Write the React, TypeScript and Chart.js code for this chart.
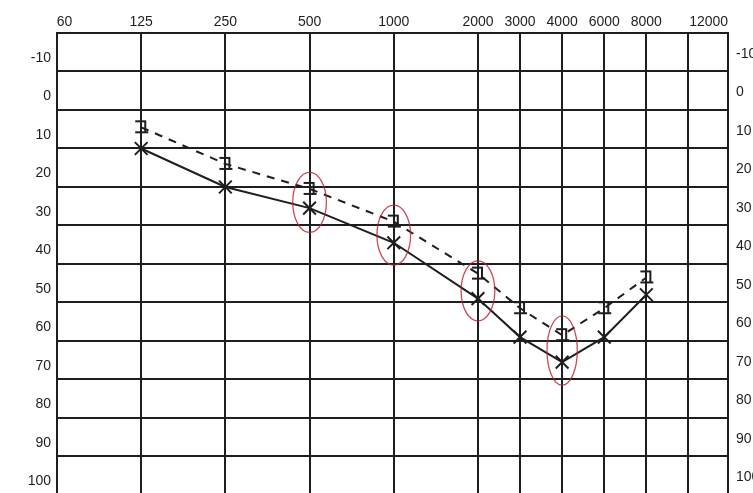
import React, { useEffect, useRef } from "react";
import { Chart, registerables } from "chart.js";

Chart.register(...registerables);

// Frequencies tested (position on the octave scale) and thresholds (dB HL)
const freqLabels = ["125", "250", "500", "1000", "2000", "3000", "4000", "6000", "8000"];
const freqPos = [1, 2, 3, 4, 5, 5.5, 6, 6.5, 7];
const airConduction = [13.5, 23.5, 29, 38, 52.5, 62.5, 69, 62.5, 51.5];
const boneConduction = [8, 17.5, 24, 32.5, 46, 55, 62, 55, 47];

// Axis ticks
const topTickLabels = ["60", "125", "250", "500", "1000", "2000", "3000", "4000", "6000", "8000", "12000"];
const topTickPos = [0.09, 1, 2, 3, 4, 5, 5.5, 6, 6.5, 7, 7.74];
const freqGridPos = [1, 2, 3, 4, 5, 5.5, 6, 6.5, 7, 7.5];
const dbLabels = [-10, 0, 10, 20, 30, 40, 50, 60, 70, 80, 90, 100];
const dbGridLines = [-6.5, 3.5, 13.5, 23.5, 33.5, 43.5, 53.5, 63.5, 73.5, 83.5, 93.5];

// Circled points (frequency position, dB centre)
const circledPos = [3, 4, 5, 6];
const circledDb = [27.5, 36, 50.5, 66];

const INK = "#1e1e1e";

function makeBracket(): HTMLCanvasElement {
  const c = document.createElement("canvas");
  c.width = 18;
  c.height = 18;
  const g = c.getContext("2d")!;
  g.strokeStyle = INK;
  g.lineWidth = 2;
  g.lineCap = "square";
  g.beginPath();
  g.moveTo(4, 3);
  g.lineTo(13, 3);
  g.lineTo(13, 14);
  g.moveTo(4, 14);
  g.lineTo(15, 14);
  g.stroke();
  return c;
}

const ellipsePlugin = {
  id: "ellipses",
  afterDatasetsDraw(chart: any) {
    const { ctx, scales } = chart;
    const xs = scales.x;
    const ys = scales.y;
    ctx.save();
    ctx.strokeStyle = "rgba(185,30,45,0.8)";
    ctx.lineWidth = 1.3;
    circledPos.forEach((p, i) => {
      const cx = xs.getPixelForValue(p);
      const cy = ys.getPixelForValue(circledDb[i]);
      const rx = Math.abs(xs.getPixelForValue(p + 0.2) - cx);
      const ry = Math.abs(ys.getPixelForValue(circledDb[i] + (p === 6 ? 9 : 7.8)) - cy);
      ctx.beginPath();
      ctx.ellipse(cx, cy, p === 6 ? rx * 0.9 : rx, ry, 0, 0, Math.PI * 2);
      ctx.stroke();
    });
    ctx.restore();
  },
};

export default function App() {
  const ref = useRef<HTMLCanvasElement>(null);

  useEffect(() => {
    if (!ref.current) return;
    const xGridSet = new Set(freqGridPos);
    const yGridSet = new Set(dbGridLines);
    const topLabelMap = new Map<number, string>();
    topTickPos.forEach((p, i) => topLabelMap.set(p, topTickLabels[i]));
    const font = { family: "'Liberation Sans', Arial, sans-serif", size: 14 };
    const noPad = (s: any) => {
      s.paddingTop = 0;
      s.paddingBottom = 0;
      s.paddingLeft = 0;
      s.paddingRight = 0;
    };

    const chart = new Chart(ref.current, {
      type: "line",
      data: {
        labels: freqLabels,
        datasets: [
          {
            label: "Air",
            data: freqPos.map((p, i) => ({ x: p, y: airConduction[i] })),
            borderColor: INK,
            borderWidth: 2,
            pointStyle: "crossRot",
            pointRadius: 9,
            pointBorderWidth: 2,
            pointBorderColor: INK,
            pointBackgroundColor: INK,
            tension: 0,
          },
          {
            label: "Bone",
            data: freqPos.map((p, i) => ({ x: p, y: boneConduction[i] })),
            borderColor: INK,
            borderWidth: 2,
            borderDash: [8, 7],
            pointStyle: makeBracket() as any,
            pointRadius: 8,
            tension: 0,
          },
        ],
      },
      options: {
        responsive: false,
        animation: false,
        events: [],
        layout: { padding: 0, autoPadding: false },
        plugins: { legend: { display: false }, tooltip: { enabled: false } },
        scales: {
          x: {
            type: "linear",
            position: "top",
            min: 0,
            max: 7.97,
            afterBuildTicks: (s: any) => {
              const vals = Array.from(new Set([...freqGridPos, ...topTickPos])).sort((a, b) => a - b);
              s.ticks = vals.map((v) => ({ value: v }));
            },
            afterFit: (s: any) => {
              s.height = 33;
              noPad(s);
            },
            ticks: {
              autoSkip: false,
              maxRotation: 0,
              padding: 2,
              color: INK,
              font,
              callback: (v: any) => topLabelMap.get(v) ?? "",
            },
            grid: {
              drawTicks: false,
              lineWidth: 2,
              color: (c: any) => (c.tick && xGridSet.has(c.tick.value) ? INK : "rgba(0,0,0,0)"),
            },
            border: { display: true, color: INK, width: 2 },
          },
          y: {
            type: "linear",
            position: "left",
            reverse: true,
            min: -16.5,
            max: 103,
            afterBuildTicks: (s: any) => {
              const vals = [...dbLabels, ...dbGridLines].sort((a, b) => a - b);
              s.ticks = vals.map((v) => ({ value: v }));
            },
            afterFit: (s: any) => {
              s.width = 57;
              noPad(s);
            },
            ticks: {
              autoSkip: false,
              padding: 6,
              color: INK,
              font,
              callback: (v: any) => (dbLabels.includes(v) ? String(v) : ""),
            },
            grid: {
              drawTicks: false,
              lineWidth: 2,
              color: (c: any) => (c.tick && yGridSet.has(c.tick.value) ? INK : "rgba(0,0,0,0)"),
            },
            border: { display: true, color: INK, width: 2 },
          },
          yRight: {
            type: "linear",
            position: "right",
            reverse: true,
            min: -16.5,
            max: 103,
            afterBuildTicks: (s: any) => {
              s.ticks = dbLabels.map((v) => ({ value: v }));
            },
            afterFit: (s: any) => {
              s.width = 25;
              noPad(s);
            },
            ticks: {
              autoSkip: false,
              padding: 8,
              labelOffset: -4,
              color: INK,
              font,
            },
            grid: { display: false, drawTicks: false },
            border: { display: true, color: INK, width: 2 },
          },
        },
      },
      plugins: [ellipsePlugin],
    });
    return () => chart.destroy();
  }, []);

  return (
    <div style={{ position: "fixed", left: 0, top: 0, width: 753, height: 493, background: "#fff", overflow: "hidden" }}>
      <canvas ref={ref} width={753} height={493} style={{ display: "block" }} />
    </div>
  );
}
